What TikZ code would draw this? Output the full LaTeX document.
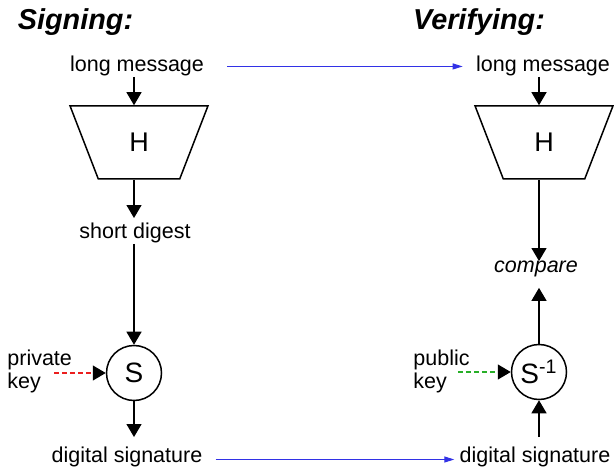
\documentclass[tikz,border=0pt]{standalone}
\usepackage{fontspec}
\setmainfont{Liberation Sans}
\usetikzlibrary{arrows.meta, shapes.geometric}
\definecolor{msgblue}{RGB}{50,50,230}
\definecolor{keyred}{RGB}{235,30,30}
\definecolor{keygreen}{RGB}{40,175,40}
\tikzset{>={Triangle[width=7.5pt, length=6.5pt]}}
\tikzset{
  txt/.style={inner sep=0pt, font=\fontsize{10.75}{11.5}\selectfont},
  title/.style={inner sep=0pt, font=\fontsize{14.4}{16}\selectfont\bfseries\itshape},
  hash/.style={draw, line width=0.75pt, trapezium, trapezium angle=70, shape border rotate=180,
    trapezium stretches=true, minimum width=69pt, minimum height=36.5pt, inner sep=0pt,
    font=\fontsize{13.5}{15}\selectfont},
  sig/.style={draw, line width=0.75pt, circle, minimum size=27.5pt, inner sep=0pt,
    font=\fontsize{14}{16}\selectfont},
  flow/.style={->, line width=0.6pt},
  send/.style={-{Triangle[width=3pt, length=5pt]}, msgblue, line width=0.5pt},
  keyline/.style={dash pattern=on 2.5pt off 1.5pt, line width=0.6pt,
    -{Triangle[width=7.5pt, length=6.5pt, color=black, fill=black]}}
}

\begin{document}
\begin{tikzpicture}[x=0.5pt, y=-0.5pt]
\useasboundingbox (0,0) rectangle (614,469);
% headings
\node[title, anchor=base] (signT) at (75.5,30) {Signing:};
\node[title, anchor=base] (verT) at (479,30) {Verifying:};
% signing side
\node[txt, anchor=base] (msgA) at (137,72) {long message};
\node[hash] (hashA) at (139,142.5) {H};
\node[txt, anchor=base] (digA) at (135,239) {short digest};
\node[sig] (sigA) at (134,373) {S};
\node[txt, align=left, anchor=west] (keyA) at (7,371) {private\\key};
\node[txt, anchor=base] (outA) at (127,462) {digital signature};
% verifying side
\node[txt, anchor=base] (msgB) at (543,72) {long message};
\node[hash] (hashB) at (544,142.5) {H};
\node[txt, anchor=base] (cmp) at (536,273) {\itshape compare};
\node[sig] (sigB) at (539,372) {S\textsuperscript{-1}};
\node[txt, align=left, anchor=west] (keyB) at (413,371) {public\\key};
\node[txt, anchor=base] (outB) at (535,462) {digital signature};
% hashing and signing steps
\draw[flow] (msgA.south -| sigA) -- (hashA.north -| sigA);
\draw[flow, shorten >=2.5pt] (hashA.south -| sigA) -- (digA.north -| sigA);
\draw[flow] (digA.south -| sigA) -- (sigA.north);
\draw[flow, shorten >=4.5pt] (sigA.south) -- (outA.north -| sigA);
\draw[flow] (msgB.south -| sigB) -- (hashB.north -| sigB);
\draw[flow] (hashB.south -| sigB) -- (cmp.north -| sigB);
\draw[flow, shorten >=5pt] (sigB.north) -- (cmp.south -| sigB);
\draw[flow, shorten <=4.5pt] (outB.north -| sigB) -- (sigB.south);
% keys
\draw[keyline, keyred] ([shift={(-18,2)}]keyA.east) -- (sigA.west);
\draw[keyline, keygreen] ([shift={(-12,1)}]keyB.east) -- (sigB.west);
% message and signature sent across
\draw[send, shorten <=11.5pt, shorten >=6.5pt] (msgA.east) -- (msgB.west);
\draw[send, shorten <=6.5pt, shorten >=2.5pt] ([yshift=1.25pt]outA.base east) -- ([yshift=1.25pt]outB.base west);
\end{tikzpicture}
\end{document}
